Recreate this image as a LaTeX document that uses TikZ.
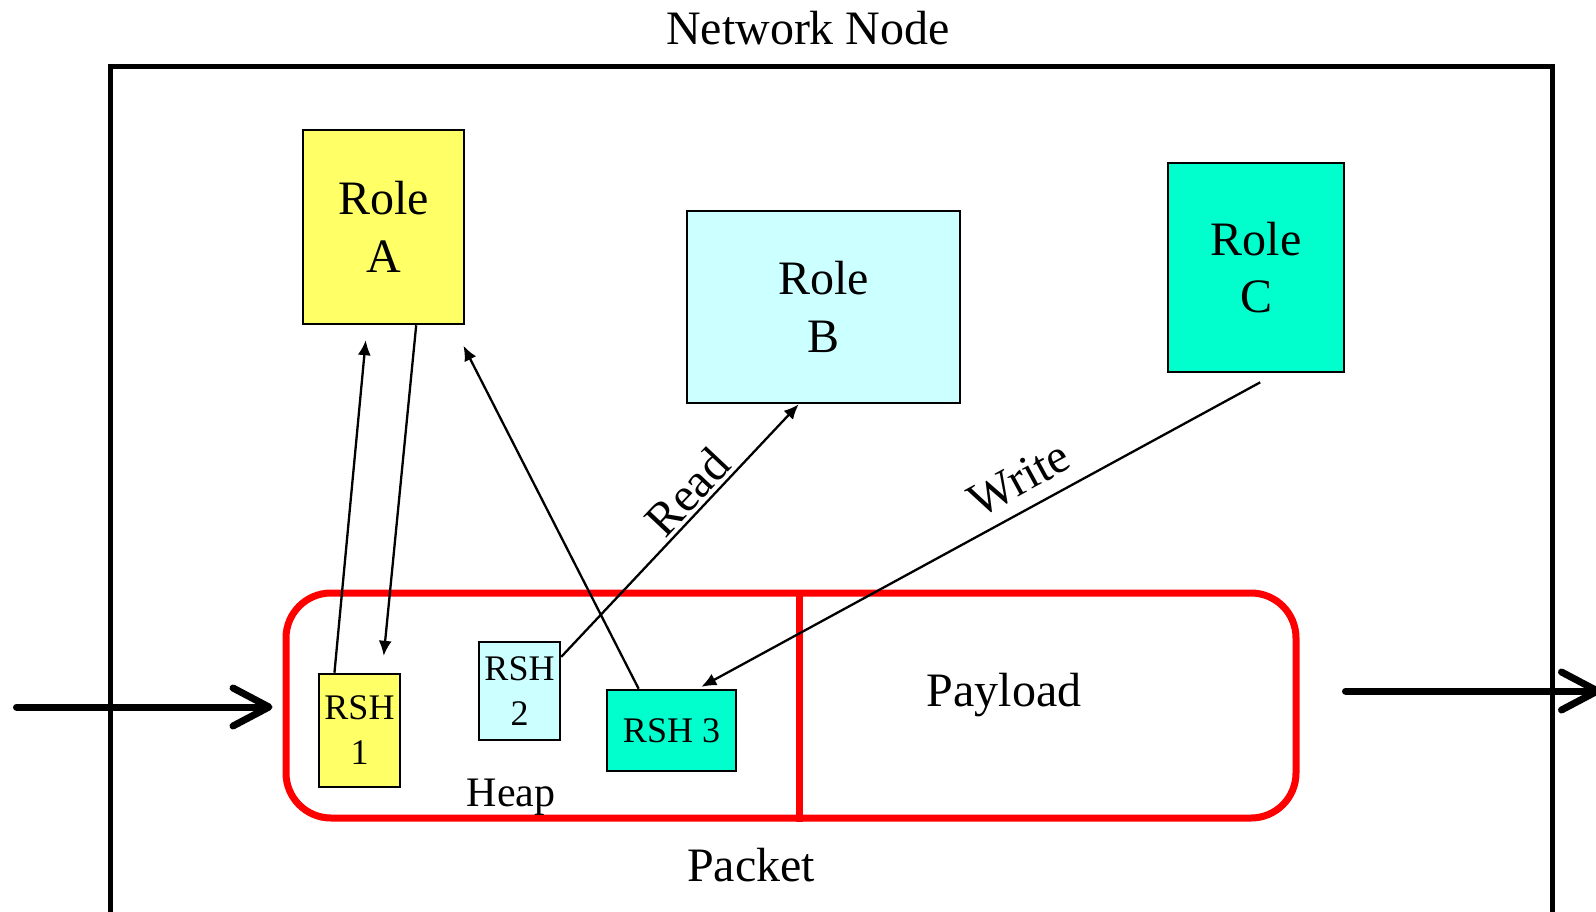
\documentclass[tikz,border=0pt]{standalone}
\usepackage{fontspec}
\setmainfont{Liberation Serif}
\usetikzlibrary{arrows.meta,calc}
\definecolor{gialloA}{HTML}{FFFF66}
\definecolor{azzurroB}{HTML}{CCFFFF}
\definecolor{verdeC}{HTML}{00FFCC}
\definecolor{rossoP}{HTML}{FF0000}

\begin{document}
\begin{tikzpicture}[x=1pt,y=-1pt]
    % Stili
    \tikzset{
        role/.style={rectangle, draw=black, line width=2.5pt, align=center, font=\fontsize{48}{57.6}\selectfont},
        rsh/.style={rectangle, draw=black, line width=2.5pt, align=center, inner sep=2pt, font=\fontsize{36}{45}\selectfont},
        plaintext/.style={anchor=base, font=\fontsize{48}{57.6}\selectfont},
        edgelabel/.style={sloped, font=\fontsize{48}{57.6}\selectfont},
        link/.style={-{Latex[length=15pt,width=13pt]}, line width=2.3pt},
        bigarrow/.style={line width=7pt, line cap=round, -{Straight Barb[round,length=36pt,width=38pt]}},
        packetline/.style={draw=rossoP, line width=7pt}
    }
    \useasboundingbox (0,0) rectangle (1596,912);

    % Nodo di rete
    \node[plaintext] (nntitle) at (808,45) {Network Node};
    \node[draw, line width=5pt, minimum width=1442, minimum height=893] (netnode) at (831,513.5) {};

    % Ruoli
    \node[role, fill=gialloA, minimum width=161, minimum height=194] (rolea) at (383.5,227) {Role\\A};
    \node[role, fill=azzurroB, minimum width=273, minimum height=192] (roleb) at (823.5,307) {Role\\B};
    \node[role, fill=verdeC, minimum width=176, minimum height=209] (rolec) at (1256,267.5) {Role\\C};

    % Pacchetto
    \node[packetline, rounded corners=45pt, minimum width=1010, minimum height=225] (packet) at (791,705.5) {};
    \coordinate (divisore) at (799,705);
    \draw[packetline] (packet.north -| divisore) -- (packet.south -| divisore);
    \node[plaintext, font=\fontsize{42}{50}\selectfont] (heap) at (511,806) {Heap};
    \node[plaintext] (payload) at (1004,706) {Payload};
    \node[plaintext] (packetlbl) at (751,881) {Packet};

    % Intestazioni RSH
    \node[rsh, fill=gialloA, minimum width=81, minimum height=113] (rsh1) at (359.5,730.5) {RSH\\1};
    \node[rsh, fill=azzurroB, minimum width=81, minimum height=98] (rsh2) at (519.5,691) {RSH\\2};
    \node[rsh, fill=verdeC, minimum width=129, minimum height=81] (rsh3) at (671.5,730.5) {RSH 3};

    % Frecce
    \draw[link, shorten >=15pt] ($(rsh1.north west)!0.2!(rsh1.north east)$) -- ($(rolea.south west)!0.40!(rolea.south east)$);
    \draw[link, shorten >=17pt] ($(rolea.south west)!0.70!(rolea.south east)$) -- ($(rsh1.north west)!0.77!(rsh1.north east)$);
    \draw[link, shorten >=23pt] ($(rsh3.north west)!0.25!(rsh3.north east)$) -- ($(rolea.south west)!0.925!(rolea.south east)$);
    \draw[link] ($(rsh2.north east)!0.16!(rsh2.south east)$) -- node[edgelabel, above, pos=0.595] (readlbl) {Read} ($(roleb.south west)!0.41!(roleb.south east)$);
    \draw[link, shorten <=19pt, shorten >=4pt] ($(rolec.south west)!0.617!(rolec.south east)$) -- node[edgelabel, above=10pt, pos=0.42] (writelbl) {Write} ($(rsh3.north west)!0.70!(rsh3.north east)$);

    % Ingresso e uscita
    \coordinate (ingresso) at (16.5,707);
    \coordinate (uscita) at (1601,691);
    \draw[bigarrow, shorten >=10pt] (ingresso) -- (ingresso -| packet.west);
    \draw[bigarrow, shorten <=46pt] (packet.east |- uscita) -- (uscita);
\end{tikzpicture}
\end{document}
